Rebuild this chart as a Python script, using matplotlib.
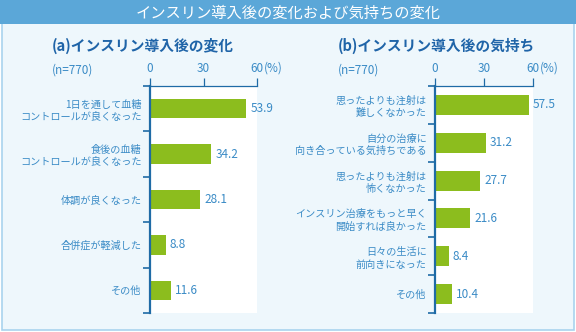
import matplotlib.pyplot as plt
from matplotlib.patches import Rectangle

plt.rcParams['font.family'] = ['Noto Sans CJK JP', 'DejaVu Sans']

title = 'インスリン導入後の変化および気持ちの変化'
n_label = '(n=770)'
x_ticks = [0, 30, 60]

a_title = '(a)インスリン導入後の変化'
a_labels = ['1日を通して血糖\nコントロールが良くなった',
            '食後の血糖\nコントロールが良くなった',
            '体調が良くなった',
            '合併症が軽減した',
            'その他']
a_values = [53.9, 34.2, 28.1, 8.8, 11.6]

b_title = '(b)インスリン導入後の気持ち'
b_labels = ['思ったよりも注射は\n難しくなかった',
            '自分の治療に\n向き合っている気持ちである',
            '思ったよりも注射は\n怖くなかった',
            'インスリン治療をもっと早く\n開始すれば良かった',
            '日々の生活に\n前向きになった',
            'その他']
b_values = [57.5, 31.2, 27.7, 21.6, 8.4, 10.4]

green = '#8cbd1e'
spine_col = '#1f6ba6'
text_col = '#3a8bc6'
head_col = '#1f64a8'
W, H = 576, 332

fig = plt.figure(figsize=(W / 100, H / 100), dpi=100)
fig.patch.set_facecolor('white')

# panel + title bar
fig.patches.append(Rectangle((2 / W, 2 / H), 572 / W, 1 - 4 / H, transform=fig.transFigure,
                             facecolor='#eef7fc', edgecolor='#a9d3ee', lw=1.2, zorder=-2))
fig.patches.append(Rectangle((0, 1 - 24 / H), 1, 24 / H, transform=fig.transFigure,
                             facecolor='#5ba7d8', edgecolor='none', zorder=-1))
fig.text(0.5, 1 - 13 / H, title, color='white', fontsize=11, ha='center', va='center')


def draw(left, width, sub_x, head, labels, values, bar_h):
    ax = fig.add_axes([left / W, 19 / H, width / W, 227 / H])
    n = len(values)
    pos = list(range(n))
    ax.barh(pos, values, height=bar_h, color=green, zorder=2)
    ax.set_ylim(n - 0.5, -0.5)
    ax.set_xlim(0, 60)
    ax.set_facecolor('white')

    for s in ['right', 'bottom']:
        ax.spines[s].set_visible(False)
    ax.spines['left'].set_color(spine_col)
    ax.spines['left'].set_linewidth(1.6)
    ax.spines['top'].set_color(spine_col)
    ax.spines['top'].set_linewidth(0.9)

    ax.xaxis.tick_top()
    ax.set_xticks(x_ticks)
    ax.set_xticklabels([str(t) for t in x_ticks])
    ax.tick_params(axis='x', length=6, width=0.9, color=spine_col, pad=2,
                   labelsize=8.5, labelcolor=text_col)
    ax.annotate('(%)', xy=(60, 1), xycoords=('data', 'axes fraction'),
                xytext=(5, 8), textcoords='offset points',
                ha='left', va='bottom', fontsize=8.5, color=text_col)

    ax.set_yticks(pos)
    ax.set_yticklabels(labels)
    ax.set_yticks([i - 0.5 for i in range(n + 1)], minor=True)
    ax.tick_params(axis='y', which='major', length=0, pad=6,
                   labelsize=7.3, labelcolor=text_col)
    ax.tick_params(axis='y', which='minor', length=5, width=1.2, color=spine_col)
    for t in ax.get_yticklabels():
        t.set_linespacing(1.3)

    for i, v in zip(pos, values):
        ax.annotate(f'{v}', xy=(v, i), xytext=(3, 0), textcoords='offset points',
                    ha='left', va='center', fontsize=8.5, color=text_col,
                    annotation_clip=False)

    fig.text(sub_x / W, 1 - 46 / H, head, color=head_col, fontsize=10.6,
             fontweight='bold', ha='left', va='center')
    fig.text(sub_x / W, 1 - 70 / H, n_label, color=text_col, fontsize=8.5,
             ha='left', va='center')
    return ax


draw(150, 107, 52, a_title, a_labels, a_values, 0.43)
draw(435, 98, 338, b_title, b_labels, b_values, 0.53)

fig.savefig('out.png', dpi=100)
